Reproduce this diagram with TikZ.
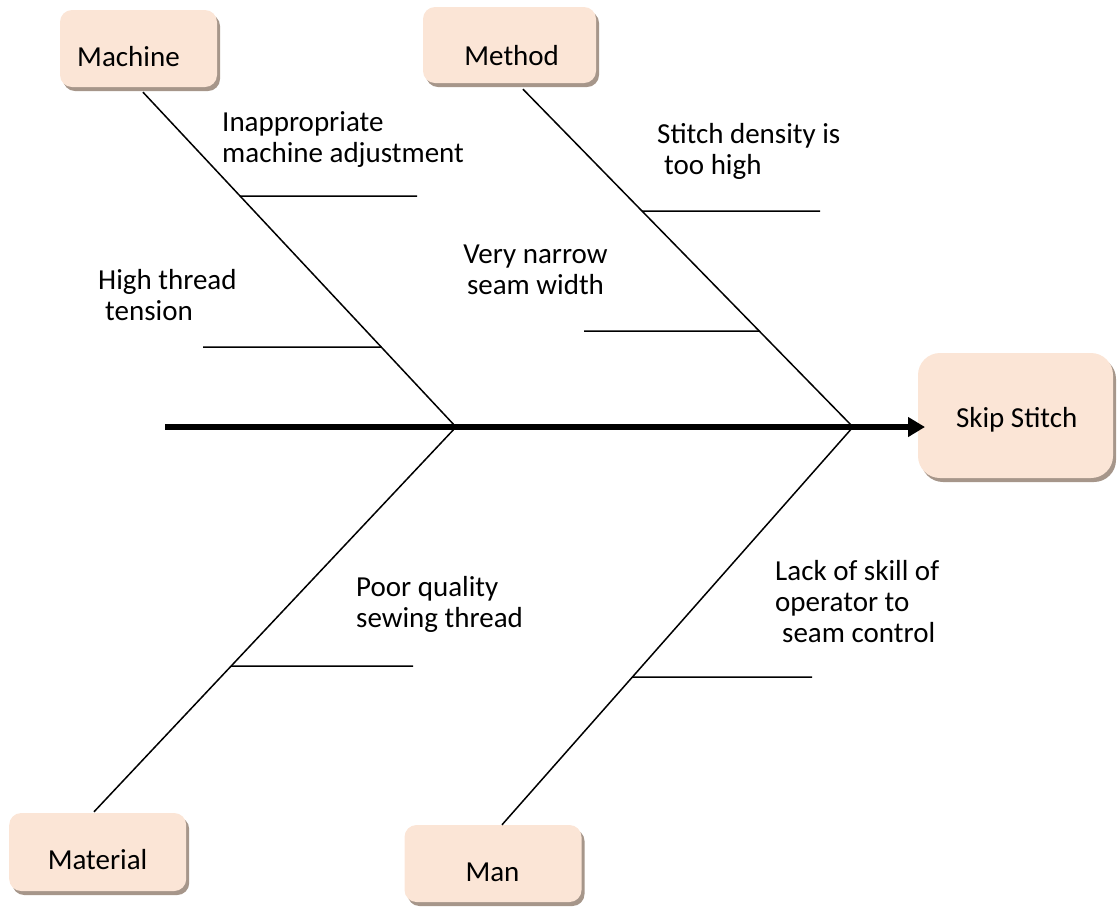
\documentclass[tikz,border=0pt]{standalone}
\usepackage{fontspec}
\setmainfont{Carlito}
\usetikzlibrary{arrows.meta,shadows,calc}
\definecolor{boxfill}{RGB}{251,229,214}
\definecolor{shadowcol}{RGB}{166,150,138}
\begin{document}
\begin{tikzpicture}[x=1pt,y=-1pt,
  catbox/.style={rounded corners=12pt, fill=boxfill, draw=none,
    drop shadow={shadow xshift=3pt, shadow yshift=-4pt, fill=shadowcol, opacity=1}},
  lbl/.style={inner sep=0pt, font=\fontsize{29}{31}\selectfont},
  bone/.style={line width=1.5pt, black},
  spine/.style={line width=5.5pt, black, -{Triangle[length=17pt,width=19pt]}}]
\useasboundingbox (0,0) rectangle (1118,906);

% category boxes
\node[catbox, minimum width=157pt, minimum height=77pt] (machine) at (138.5,48.5) {};
\node[catbox, minimum width=173pt, minimum height=76pt] (method) at (509.5,45) {};
\node[catbox, minimum width=177pt, minimum height=78pt] (material) at (97.7,852) {};
\node[catbox, minimum width=177pt, minimum height=77pt] (man) at (493,863.5) {};
\node[catbox, rounded corners=22pt, minimum width=195pt, minimum height=125pt] (skip) at (1015.5,415.5) {};

\node[lbl, anchor=base] (machinetxt) at (128.5,66.7) {Machine};
\node[lbl, anchor=base] (methodtxt) at (511.7,65) {Method};
\node[lbl, anchor=base] (materialtxt) at (97.6,869) {Material};
\node[lbl, anchor=base] (mantxt) at (492.5,881.7) {Man};
\node[lbl, anchor=base] (skiptxt) at (1016.7,427.3) {Skip Stitch};

% spine and joints
\coordinate (tail) at (165,427);
\coordinate (jA) at (456,427);
\coordinate (jB) at (853,427);
\coordinate (head) at (925,427);
\draw[spine] (tail) -- (head);

% main bones
\coordinate (mA) at ($(machine.south)+(4.5,5)$);
\coordinate (mB) at ($(method.south)+(13.5,6)$);
\coordinate (mC) at ($(material.north)+(-3.7,-1)$);
\coordinate (mD) at ($(man.north)+(9,0)$);
\draw[bone] (mA) -- (jA);
\draw[bone] (mB) -- (jB);
\draw[bone] (jA) -- (mC);
\draw[bone] (jB) -- (mD);

% cause ribs
\coordinate (r1) at (intersection of mA--jA and 0,196--1,196);
\coordinate (r1e) at (417,196);
\coordinate (r2) at (intersection of mA--jA and 0,347--1,347);
\coordinate (r2e) at (203,347);
\coordinate (r3) at (intersection of mB--jB and 0,211--1,211);
\coordinate (r3e) at (820,211);
\coordinate (r4) at (intersection of mB--jB and 0,331--1,331);
\coordinate (r4e) at (584,331);
\coordinate (r5) at (intersection of jA--mC and 0,666--1,666);
\coordinate (r5e) at (413,666);
\coordinate (r6) at (intersection of jB--mD and 0,677--1,677);
\coordinate (r6e) at (812,677);
\draw[bone] (r1) -- (r1e);
\draw[bone] (r2) -- (r2e);
\draw[bone] (r3) -- (r3e);
\draw[bone] (r4) -- (r4e);
\draw[bone] (r5) -- (r5e);
\draw[bone] (r6) -- (r6e);

% cause labels (anchored at the baseline of their last line)
\node[lbl, anchor=base west, align=left] (c1) at (222,162) {Inappropriate\\machine adjustment};
\node[lbl, anchor=base west, align=left] (c2) at (98,320) {High thread\\\hspace*{7pt}tension};
\node[lbl, anchor=base west, align=left] (c3) at (657,174) {Stitch density is\\\hspace*{7pt}too high};
\node[lbl, anchor=base, align=center] (c4) at (535.5,294) {Very narrow\\seam width};
\node[lbl, anchor=base west, align=left] (c5) at (356,627) {Poor quality\\sewing thread};
\node[lbl, anchor=base west, align=left] (c6) at (775,642) {Lack of skill of\\operator to\\\hspace*{7pt}seam control};
\end{tikzpicture}
\end{document}
